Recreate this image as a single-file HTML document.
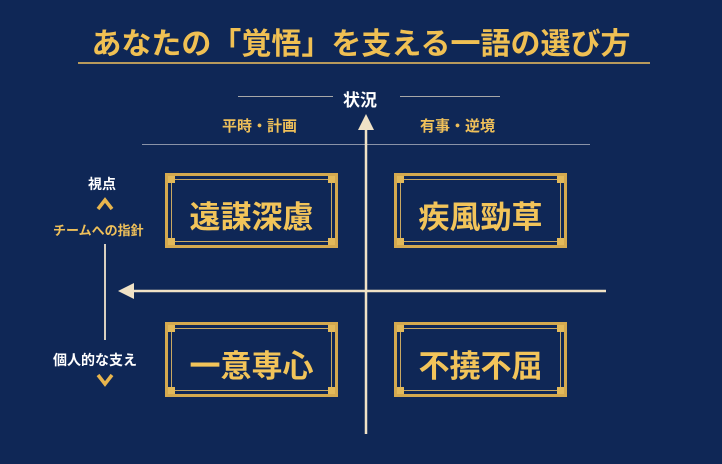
<!DOCTYPE html>
<html><head><meta charset="utf-8"><style>
body{margin:0;width:722px;height:464px;overflow:hidden;background:#0f2756;font-family:"Liberation Sans","Noto Sans CJK JP",sans-serif}
.t{position:absolute;white-space:nowrap;font-weight:bold}
.box{position:absolute;width:173px;height:75px;box-sizing:border-box;border:3px solid #d4a94f;background:#0f2756}
.box:before{content:"";position:absolute;left:3px;top:3px;right:3px;bottom:3px;border:1px solid #c9a862}
.box i{position:absolute;width:7px;height:7px;background:#e2b95a}
.box span{position:absolute;left:0;right:0;top:16px;text-align:center;font-size:31px;font-weight:bold;color:#f2c45a}
</style></head><body>
<div class="t" style="left:0;width:722px;top:19px;text-align:center;font-size:30px;color:#f0c053">あなたの「覚悟」を支える一語の選び方</div>
<div style="position:absolute;left:78px;top:62px;width:572px;height:2px;background:#b89a5c"></div>
<div style="position:absolute;left:238px;top:96px;width:95px;height:1px;background:#a8a8a8"></div>
<div style="position:absolute;left:400px;top:96px;width:100px;height:1px;background:#a8a8a8"></div>
<div class="t" style="left:343px;top:86px;font-size:17px;color:#fff">状況</div>
<div class="t" style="left:222px;top:115px;font-size:15px;color:#efc05a">平時・計画</div>
<div class="t" style="left:420px;top:115px;font-size:15px;color:#efc05a">有事・逆境</div>
<div style="position:absolute;left:142px;top:144px;width:448px;height:1px;background:#8a93a8"></div>
<svg style="position:absolute;left:0;top:0" width="722" height="464">
<line x1="366" y1="128" x2="366" y2="434" stroke="#f0e2c6" stroke-width="2.5"/>
<polygon points="366,114 358,130 374,130" fill="#f0e2c6"/>
<line x1="132" y1="291" x2="606" y2="291" stroke="#f0e2c6" stroke-width="2.5"/>
<polygon points="118,291 134,283 134,299" fill="#f0e2c6"/>
<line x1="105" y1="244" x2="105" y2="340" stroke="#d8d0c0" stroke-width="2"/>
<polyline points="98,209 105,200 112,209" fill="none" stroke="#e8b54d" stroke-width="3.5"/>
<polyline points="98,375 105,384 112,375" fill="none" stroke="#e8b54d" stroke-width="3.5"/>
</svg>
<div class="t" style="left:88px;top:174px;font-size:14px;color:#fff">視点</div>
<div class="t" style="left:53px;top:220px;font-size:13px;color:#efc05a">チームへの指針</div>
<div class="t" style="left:53px;top:350px;font-size:14px;color:#fff">個人的な支え</div>
<div class="box" style="left:165px;top:173px"><i style="left:0;top:0"></i><i style="right:0;top:0"></i><i style="left:0;bottom:0"></i><i style="right:0;bottom:0"></i><span>遠謀深慮</span></div>
<div class="box" style="left:394px;top:173px"><i style="left:0;top:0"></i><i style="right:0;top:0"></i><i style="left:0;bottom:0"></i><i style="right:0;bottom:0"></i><span>疾風勁草</span></div>
<div class="box" style="left:165px;top:322px"><i style="left:0;top:0"></i><i style="right:0;top:0"></i><i style="left:0;bottom:0"></i><i style="right:0;bottom:0"></i><span>一意専心</span></div>
<div class="box" style="left:394px;top:322px"><i style="left:0;top:0"></i><i style="right:0;top:0"></i><i style="left:0;bottom:0"></i><i style="right:0;bottom:0"></i><span>不撓不屈</span></div>
</body></html>
